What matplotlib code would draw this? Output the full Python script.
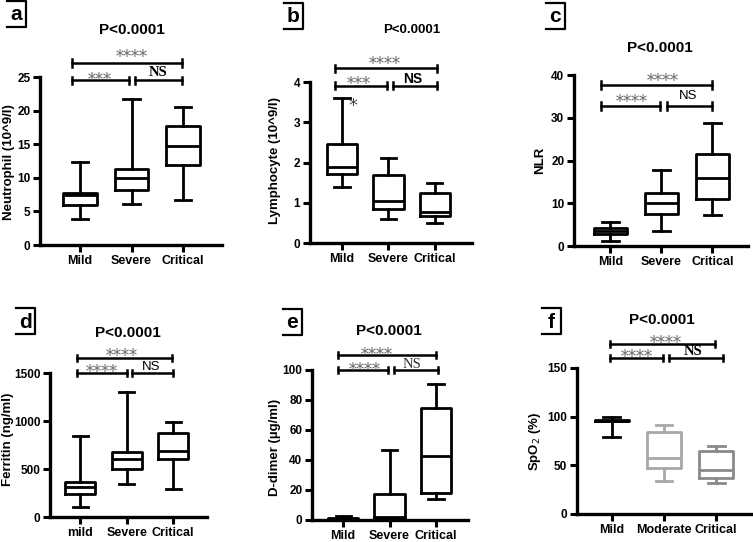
import matplotlib
matplotlib.use('Agg')
import matplotlib.pyplot as plt
from matplotlib.lines import Line2D

plt.rcParams['font.family'] = ['Liberation Sans', 'DejaVu Sans']

W, H = 753, 542

# ---------------- data ----------------
groups_msc = ['Mild', 'Severe', 'Critical']
groups_d = ['mild', 'Severe', 'Critical']
groups_f = ['Mild', 'Moderate', 'Critical']

# Neutrophil (10^9/l)
neut_whislo = [3.8, 6.1, 6.7]
neut_q1 = [5.9, 8.2, 11.9]
neut_med = [7.4, 9.9, 14.7]
neut_q3 = [7.7, 11.3, 17.7]
neut_whishi = [12.3, 21.7, 20.5]

# Lymphocyte (10^9/l)
lymph_whislo = [1.4, 0.6, 0.5]
lymph_q1 = [1.72, 0.85, 0.67]
lymph_med = [1.9, 1.05, 0.78]
lymph_q3 = [2.47, 1.68, 1.23]
lymph_whishi = [3.6, 2.1, 1.5]

# NLR
nlr_whislo = [1.2, 3.6, 7.3]
nlr_q1 = [2.8, 7.4, 10.9]
nlr_med = [3.4, 10.0, 15.8]
nlr_q3 = [4.2, 12.3, 21.6]
nlr_whishi = [5.6, 17.7, 28.7]

# Ferritin (ng/ml)
ferr_whislo = [100, 345, 290]
ferr_q1 = [240, 495, 600]
ferr_med = [315, 600, 690]
ferr_q3 = [360, 680, 880]
ferr_whishi = [840, 1300, 985]

# D-dimer (ug/ml)
dd_whislo = [0.3, 0.2, 14.0]
dd_q1 = [0.6, 1.5, 18.3]
dd_med = [1.0, 2.2, 43.0]
dd_q3 = [1.5, 17.6, 75.0]
dd_whishi = [2.8, 47.0, 91.0]

# SpO2 (%)
spo2_whislo = [79, 34, 32]
spo2_q1 = [95.5, 47.5, 37.5]
spo2_med = [96, 58, 45]
spo2_q3 = [96.5, 84, 64.5]
spo2_whishi = [99.5, 91.5, 70]

pvalue_text = 'P<0.0001'


def fx(px):
    return px / W


def fy(py):
    return 1 - py / H


fig = plt.figure(figsize=(W / 100, H / 100), dpi=100)

STAR_FS = 11.5


def panel(rect_px, xlim, ylim, yticks, groups, stats, colors, ylabel, ylabel_px,
          title_px, title_size, letter, letter_px, brackets, texts):
    x0, x1, ytop, y0 = rect_px
    ax = fig.add_axes([fx(x0), fy(y0), (x1 - x0) / W, (y0 - ytop) / H])
    whislo, q1, med, q3, whishi = stats
    for i in range(3):
        st = [dict(med=med[i], q1=q1[i], q3=q3[i], whislo=whislo[i],
                   whishi=whishi[i], fliers=[])]
        c = colors[i]
        lw = 2.0
        ax.bxp(st, positions=[i + 1], widths=0.65, showfliers=False,
               boxprops=dict(color=c, linewidth=lw),
               medianprops=dict(color=c, linewidth=lw),
               whiskerprops=dict(color=c, linewidth=lw),
               capprops=dict(color=c, linewidth=lw),
               manage_ticks=False)
    ax.set_xlim(*xlim)
    ax.set_ylim(*ylim)
    ax.set_xticks([1, 2, 3])
    ax.set_xticklabels(groups, fontsize=9, fontweight='bold')
    ax.set_yticks(yticks)
    ax.set_yticklabels([str(t) for t in yticks], fontsize=8.5, fontweight='bold')
    for s in ['top', 'right']:
        ax.spines[s].set_visible(False)
    for s in ['left', 'bottom']:
        ax.spines[s].set_linewidth(2.4)
    ax.tick_params(axis='both', direction='out', length=5, width=2.2, pad=2)
    ax.patch.set_alpha(0)

    fig.text(fx(ylabel_px[0]), fy(ylabel_px[1]), ylabel, rotation=90,
             ha='center', va='center', fontsize=9.5, fontweight='bold')
    fig.text(fx(title_px[0]), fy(title_px[1]), pvalue_text, ha='center',
             va='center', fontsize=title_size, fontweight='bold')

    # panel letter with open box
    cx, cy = letter_px
    fig.text(fx(cx), fy(cy), letter, ha='center', va='center', fontsize=15,
             fontweight='bold')
    l, r, t, b = cx - 9, cx + 10, cy - 14, cy + 12
    fig.add_artist(Line2D([fx(l), fx(r), fx(r), fx(l)],
                          [fy(t), fy(t), fy(b), fy(b)], color='black', lw=1.6))

    # significance brackets (data coordinates)
    yr = ylim[1] - ylim[0]
    for (xa, xb, yb) in brackets:
        tick = 0.022 * yr
        ax.plot([xa, xb], [yb, yb], color='black', lw=1.8, clip_on=False)
        for xx in (xa, xb):
            ax.plot([xx, xx], [yb - tick, yb + tick], color='black', lw=1.8,
                    clip_on=False)
    for (xt, yt, s, kind) in texts:
        if kind == 'star':
            # yt is the visual centre of the asterisks
            ax.annotate(s, xy=(xt, yt), xytext=(0, -0.6 * STAR_FS),
                        textcoords='offset points', ha='center', va='baseline',
                        fontsize=STAR_FS, family=['DejaVu Serif'],
                        color='#6a6a6a', annotation_clip=False)
        elif kind == 'ns_serif_bold':
            ax.text(xt, yt, s, ha='center', va='center', fontsize=10.5,
                    family=['Liberation Serif'], fontweight='bold',
                    color='black', clip_on=False)
        elif kind == 'ns_serif':
            ax.text(xt, yt, s, ha='center', va='center', fontsize=10.5,
                    family=['Liberation Serif'], color='#333333', clip_on=False)
        elif kind == 'ns_sans_bold':
            ax.text(xt, yt, s, ha='center', va='center', fontsize=10,
                    fontweight='bold', color='black', clip_on=False)
        else:
            ax.text(xt, yt, s, ha='center', va='center', fontsize=9.5,
                    color='black', clip_on=False)
    return ax


blk = ['black', 'black', 'black']

# a
panel((40, 222, 77, 245), (0.22, 3.76), (0, 25), [0, 5, 10, 15, 20, 25],
      groups_msc, (neut_whislo, neut_q1, neut_med, neut_q3, neut_whishi), blk,
      'Neutrophil (10^9/l)', (9, 162), (132, 30), 11, 'a', (16, 15),
      [(0.84, 2.99, 27.1), (0.84, 1.95, 24.5), (2.07, 2.99, 24.5)],
      [(2.0, 28.6, '****', 'star'), (1.39, 25.3, '***', 'star'),
       (2.51, 25.7, 'NS', 'ns_serif_bold')])

# b
axb = panel((310, 472, 82, 243), (0.31, 3.8), (0, 4), [0, 1, 2, 3, 4],
            groups_msc, (lymph_whislo, lymph_q1, lymph_med, lymph_q3, lymph_whishi), blk,
            'Lymphocyte (10^9/l)', (275, 161), (412, 30), 9.5, 'b', (293, 17),
            [(0.85, 3.04, 4.34), (0.85, 1.97, 3.91), (2.10, 3.04, 3.91)],
            [(1.92, 4.55, '****', 'star'), (1.37, 4.07, '***', 'star'),
             (2.52, 4.08, 'NS', 'ns_sans_bold')])
axb.annotate('*', xy=(1.23, lymph_whishi[0] - 0.05), xytext=(0, -0.6 * 13),
             textcoords='offset points', ha='center', va='baseline',
             fontsize=13, color='#444444', family=['DejaVu Sans'])

# c
panel((574, 748, 75, 246), (0.29, 3.7), (0, 40), [0, 10, 20, 30, 40],
      groups_msc, (nlr_whislo, nlr_q1, nlr_med, nlr_q3, nlr_whishi), blk,
      'NLR', (540, 160), (660, 48), 11, 'c', (555, 17),
      [(0.82, 2.99, 37.7), (0.82, 1.97, 32.8), (2.12, 2.99, 32.8)],
      [(2.02, 39.6, '****', 'star'), (1.42, 34.8, '****', 'star'),
       (2.53, 35.0, 'NS', 'ns_sans')])

# d
panel((50, 207, 373, 517), (0.35, 3.73), (0, 1500), [0, 500, 1000, 1500],
      groups_d, (ferr_whislo, ferr_q1, ferr_med, ferr_q3, ferr_whishi), blk,
      'Ferritin (ng/ml)', (8, 439), (128, 333), 11, 'd', (25, 322),
      [(0.94, 2.98, 1653), (0.94, 2.0, 1497), (2.11, 3.0, 1497)],
      [(1.9, 1722, '****', 'star'), (1.47, 1556, '****', 'star'),
       (2.53, 1565, 'NS', 'ns_sans')])

# e
panel((312, 468, 370, 520), (0.33, 3.69), (0, 100), [0, 20, 40, 60, 80, 100],
      groups_msc, (dd_whislo, dd_q1, dd_med, dd_q3, dd_whishi), blk,
      'D-dimer (µg/ml)', (275, 447), (389, 331), 11, 'e', (292, 323),
      [(0.89, 3.0, 110), (0.89, 1.97, 100), (2.1, 3.04, 100)],
      [(1.72, 113.3, '****', 'star'), (1.47, 103.3, '****', 'star'),
       (2.48, 104.0, 'NS', 'ns_serif')])

# f
panel((577, 752, 368, 514), (0.33, 3.69), (0, 150), [0, 50, 100, 150],
      groups_f, (spo2_whislo, spo2_q1, spo2_med, spo2_q3, spo2_whishi),
      ['black', '#a8a8a8', '#8a8a8a'],
      'SpO$_2$ (%)', (535, 441), (662, 320), 11, 'f', (551, 322),
      [(0.96, 2.98, 174.6), (0.96, 1.99, 160), (2.1, 3.13, 160)],
      [(2.03, 180.4, '****', 'star'), (1.47, 165.7, '****', 'star'),
       (2.55, 167.0, 'NS', 'ns_serif_bold')])

fig.savefig('out.png', dpi=100)
